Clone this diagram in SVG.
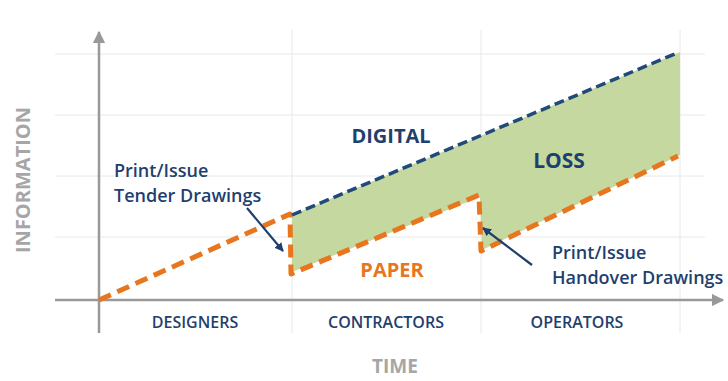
<svg xmlns="http://www.w3.org/2000/svg" width="728" height="381" viewBox="0 0 728 381">
<defs>
<style>
.grid{stroke:#e8e8e8;stroke-width:1;fill:none}
.axis{stroke:#999;stroke-width:2.5;fill:none}
.paper{stroke:#E8761E;stroke-width:5;stroke-dasharray:13 7;fill:none;stroke-linejoin:round}
.digital{stroke:#1F4A7A;stroke-width:3.5;stroke-dasharray:10 5;fill:none}
.lbl{font-family:'Open Sans','Liberation Sans',sans-serif;font-weight:600;fill:#1F3F6E}
.big{font-family:'Open Sans','Liberation Sans',sans-serif;font-weight:700}
.ptr{stroke:#1F3F6E;stroke-width:2.2;fill:none}
</style>
<marker id="ah" viewBox="0 0 10 10" refX="9" refY="5" markerWidth="5" markerHeight="5" orient="auto"><path d="M0,0 L10,5 L0,10 z" fill="#999"/></marker>
<marker id="bh" viewBox="0 0 10 10" refX="9" refY="5" markerWidth="4" markerHeight="4" orient="auto"><path d="M0,0 L10,5 L0,10 z" fill="#1F3F6E"/></marker>
</defs>
<rect width="728" height="381" fill="#fff"/>
<g id="grid">
<line class="grid" x1="55" y1="54" x2="705" y2="54"/>
<line class="grid" x1="55" y1="115" x2="705" y2="115"/>
<line class="grid" x1="55" y1="176" x2="705" y2="176"/>
<line class="grid" x1="55" y1="237" x2="705" y2="237"/>
<line class="grid" x1="292" y1="30" x2="292" y2="333"/>
<line class="grid" x1="481" y1="30" x2="481" y2="333"/>
<line class="grid" x1="680" y1="30" x2="680" y2="333"/>
</g>
<g id="loss-area">
<polygon points="292,215 680,52 680,155 482,250 480,197 292,272" fill="#C4D8A0"/>
</g>
<g id="axes">
<line class="axis" x1="99" y1="333" x2="99" y2="32" marker-end="url(#ah)"/>
<line class="axis" x1="55" y1="300" x2="723" y2="300" marker-end="url(#ah)"/>
</g>
<g id="connectors">
<polyline id="paper-line" class="paper" points="99,300 290,214 291,274 479,195 481,251 678,156"/>
<line id="digital-line" class="digital" x1="292" y1="215" x2="677" y2="53"/>
<line class="ptr" x1="247" y1="208" x2="283" y2="251" marker-end="url(#bh)"/>
<line class="ptr" x1="532" y1="265" x2="483" y2="228" marker-end="url(#bh)"/>
</g>
<g id="labels">
<text class="big" x="22" y="180" font-size="20" fill="#A6A6A6" text-anchor="middle" transform="rotate(-90 22 180)" dominant-baseline="central">INFORMATION</text>
<text class="big" x="395" y="373" font-size="19" fill="#A6A6A6" text-anchor="middle">TIME</text>
<text class="lbl" x="195" y="328" font-size="16" text-anchor="middle">DESIGNERS</text>
<text class="lbl" x="386" y="328" font-size="16" text-anchor="middle">CONTRACTORS</text>
<text class="lbl" x="577" y="328" font-size="16" text-anchor="middle">OPERATORS</text>
<text class="lbl" x="114" y="177" font-size="18">Print/Issue</text>
<text class="lbl" x="114" y="202" font-size="18">Tender Drawings</text>
<text class="lbl" x="552" y="259" font-size="18">Print/Issue</text>
<text class="lbl" x="552" y="284" font-size="18">Handover Drawings</text>
<text class="big" x="391" y="143" font-size="20" fill="#1F3F6E" text-anchor="middle">DIGITAL</text>
<text class="big" x="559" y="168" font-size="21" fill="#1F3F6E" text-anchor="middle">LOSS</text>
<text class="big" x="392" y="277" font-size="20" fill="#E8761E" text-anchor="middle">PAPER</text>
</g>
</svg>
